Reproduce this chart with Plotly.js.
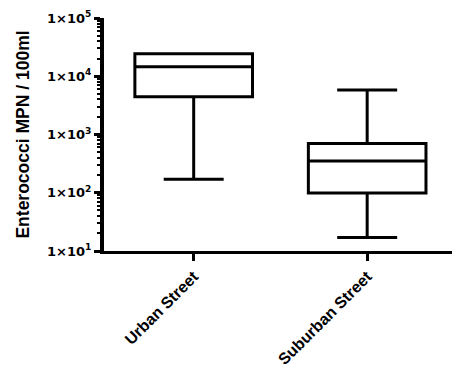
<!DOCTYPE html>
<html>
<head>
<meta charset="utf-8">
<script src="https://cdn.plot.ly/plotly-3.0.1.min.js"></script>
<style>html,body{margin:0;padding:0;background:#fff;}#chart{width:452px;height:368px;}</style>
</head>
<body>
<div id="chart"></div>
<script>
const categories = ['Urban Street', 'Suburban Street'];
const lowerWhisker = [170, 17];
const q1Values = [4460, 99];
const medianValues = [14500, 350];
const q3Values = [24300, 700];
const upperWhisker = [24300, 5800];
const yTickVals = [10, 100, 1000, 10000, 100000];
const yTickText = ['1×10<sup>1</sup>', '1×10<sup>2</sup>', '1×10<sup>3</sup>', '1×10<sup>4</sup>', '1×10<sup>5</sup>'];
const yTitle = 'Enterococci MPN / 100ml';

const minorVals = [];
for (let d = 10; d < 100000; d *= 10) { for (let k = 2; k <= 9; k++) minorVals.push(d * k); }

const trace = {
  type: 'box',
  x: categories,
  q1: q1Values,
  median: medianValues,
  q3: q3Values,
  lowerfence: lowerWhisker,
  upperfence: upperWhisker,
  width: 0.678,
  whiskerwidth: 0.51,
  line: {color: '#000', width: 3},
  fillcolor: 'rgba(0,0,0,0)',
  boxpoints: false,
  hoverinfo: 'skip'
};

const fam = 'Liberation Sans, Arial, sans-serif';

const layout = {
  width: 452, height: 368,
  margin: {l: 104, r: 0, t: 18, b: 117},
  paper_bgcolor: '#fff', plot_bgcolor: '#fff',
  showlegend: false,
  font: {family: fam, color: '#000', weight: 700},
  xaxis: {
    type: 'category',
    range: [-0.517, 1.489],
    showline: true, linecolor: '#000', linewidth: 3,
    ticks: 'outside', ticklen: 7, tickwidth: 3, tickcolor: '#000',
    tickangle: -45,
    tickfont: {family: fam, size: 16, color: '#000', weight: 700},
    showgrid: false, zeroline: false, automargin: false, fixedrange: true
  },
  yaxis: {
    type: 'log',
    range: [1, 5],
    showline: true, linecolor: '#000', linewidth: 4,
    ticks: 'outside', ticklen: 6, tickwidth: 3, tickcolor: '#000',
    tickmode: 'array', tickvals: yTickVals, ticktext: yTickText,
    minor: {tickmode: 'array', tickvals: minorVals, ticks: 'outside', ticklen: 3, tickwidth: 2, tickcolor: '#000', showgrid: false},
    tickfont: {family: 'DejaVu Sans, sans-serif', size: 13, color: '#000', weight: 700},
    ticklabelstandoff: 0,
    title: {text: yTitle, font: {family: fam, size: 17.5, color: '#000', weight: 700}, standoff: 14},
    showgrid: false, zeroline: false, automargin: false, fixedrange: true
  }
};

Plotly.newPlot('chart', [trace], layout, {staticPlot: true, displayModeBar: false});
</script>
</body>
</html>
